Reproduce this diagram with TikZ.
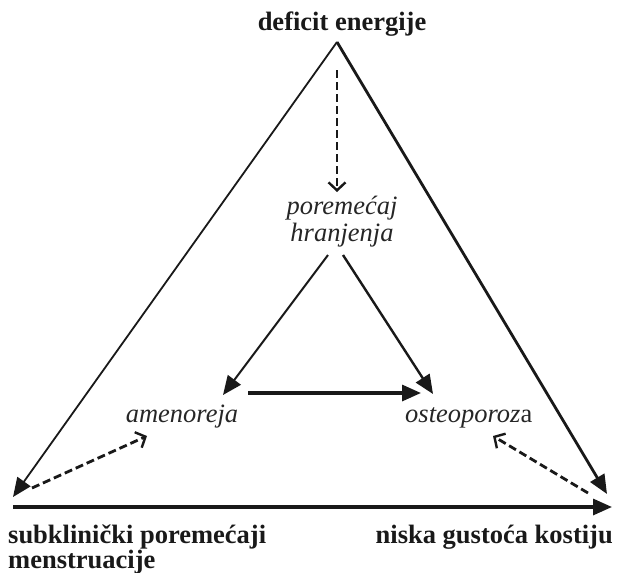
\documentclass[tikz,border=0pt]{standalone}
\usepackage{fontspec}
\setmainfont{Liberation Serif}
\usetikzlibrary{arrows.meta}
\begin{document}
\begin{tikzpicture}[x=1pt,y=-1pt,
  lbl/.style={inner sep=0pt, font=\fontsize{26.5}{26}\selectfont\bfseries, text=black!90},
  itl/.style={inner sep=0pt, font=\fontsize{26.5}{27}\selectfont\itshape, text=black!85},
  solidarr/.style={-{Triangle[length=19pt,width=16pt]}, draw=black!90},
  dasharr/.style={dash pattern=on 8pt off 4pt, line width=2.8pt, -{Straight Barb[length=8pt,width=17pt,line width=2.4pt]}, draw=black!90}]
\useasboundingbox (0,0) rectangle (619,573);
% texts
\node[lbl, anchor=base] (top) at (342,30) {deficit energije};
\node[itl, anchor=base] (eat1) at (342,214) {poremećaj};
\node[itl, anchor=base] (eat2) at (342,241) {hranjenja};
\node[itl, anchor=base] (amen) at (182,422) {amenoreja};
\node[itl, anchor=base west] (osteo) at (405,422) {osteoporoz\upshape a};
\node[lbl, anchor=base west] (sub1) at (8,543) {subklinički poremećaji};
\node[lbl, anchor=base west] (sub2) at (8,568) {menstruacije};
\node[lbl, anchor=base east] (low) at (613,543) {niska gustoća kostiju};
% corners
\coordinate (apex) at (337,42);
\coordinate (bl) at (13,497);
\coordinate (br) at (607,494);
\coordinate (bstart) at (13,507);
\coordinate (bend) at (612,507);
% outer triangle
\draw[solidarr, line width=1.8pt] (apex) -- (bl);
\draw[solidarr, line width=2.8pt] (apex) -- (br);
\draw[solidarr, line width=3.2pt] (bstart) -- (bend);
% dashed
\coordinate (d1s) at (337,70);
\coordinate (d1e) at (337,192);
\draw[dasharr] (d1s) -- (d1e);
\coordinate (d2s) at (32,488);
\coordinate (d2e) at (147,436);
\draw[dasharr] (d2s) -- (d2e);
\coordinate (d3s) at (588,493);
\coordinate (d3e) at (493,436);
\draw[dasharr] (d3s) -- (d3e);
% inner triangle
\coordinate (e1) at (328,255);
\coordinate (e2) at (343,255);
\coordinate (a1) at (223,395);
\coordinate (o1) at (433,394);
\coordinate (h1) at (248,393);
\coordinate (h2) at (421,393);
\draw[solidarr, line width=2pt] (e1) -- (a1);
\draw[solidarr, line width=2.4pt] (e2) -- (o1);
\draw[solidarr, line width=3.2pt] (h1) -- (h2);
\end{tikzpicture}
\end{document}
